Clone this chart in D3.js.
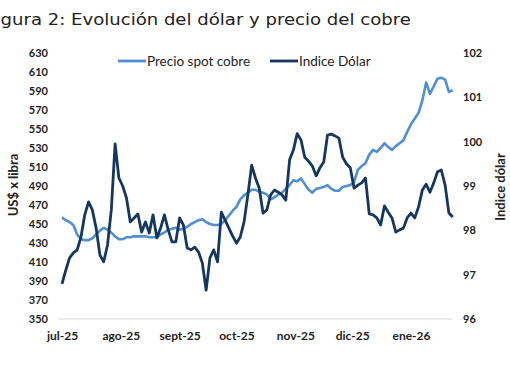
<!DOCTYPE html>
<html>
<head>
<meta charset="utf-8">
<script src="https://cdn.jsdelivr.net/npm/d3@7/dist/d3.min.js"></script>
<style>
  body { margin: 0; background: #fff; }
  svg { display: block; }
</style>
</head>
<body>
<svg id="chart" width="510" height="376"></svg>
<script>
// series sampled every 2 days from 1 Jul 2025
const startDate = '2025-07-01';
const endDate = '2026-01-23';
const stepDays = 2;

const monthTicks = ['2025-07-01', '2025-08-01', '2025-09-01', '2025-10-01', '2025-11-01', '2025-12-01', '2026-01-01'];
const monthLabels = ['jul-25', 'ago-25', 'sept-25', 'oct-25', 'nov-25', 'dic-25', 'ene-26'];
const leftTicks = [350, 370, 390, 410, 430, 450, 470, 490, 510, 530, 550, 570, 590, 610, 630];
const rightTicks = [96, 97, 98, 99, 100, 101, 102];

// Precio spot cobre (US$ x libra, cents)
const cobre = [
  457, 454, 452, 449, 439, 434, 433, 433, 435, 439,
  443, 446, 444, 441, 437, 434, 434, 436, 436, 437,
  437, 437, 437, 436, 436, 436, 439, 441, 444, 445,
  446, 444, 445, 447, 450, 452, 454, 455, 452, 450,
  449, 449, 450, 454, 459, 464, 468, 476, 480, 483,
  486, 486, 484, 483, 481, 476, 478, 481, 483, 487,
  491, 496, 495, 498, 492, 486, 483, 487, 488, 489,
  491, 487, 485, 485, 489, 490, 491, 494, 507, 511,
  514, 523, 528, 526, 530, 535, 531, 528, 532, 535,
  538, 547, 555, 561, 567, 580, 599, 587, 595, 603,
  604, 602, 589, 591
];

// Indice Dólar
const dolar = [
  96.79, 97.10, 97.38, 97.49, 97.56, 97.85, 98.35, 98.64, 98.46, 98.05,
  97.44, 97.29, 97.67, 98.46, 99.95, 99.18, 99.00, 98.73, 98.19, 98.28,
  98.37, 97.96, 98.19, 97.94, 98.35, 97.83, 98.05, 98.35, 98.01, 97.74,
  97.74, 98.28, 98.12, 97.60, 97.56, 97.62, 97.51, 97.26, 96.65, 97.38,
  97.56, 97.29, 98.41, 98.23, 98.05, 97.87, 97.71, 97.85, 98.19, 98.80,
  99.47, 99.18, 98.95, 98.39, 98.46, 98.80, 98.91, 98.86, 98.80, 98.68,
  99.59, 99.81, 100.18, 100.04, 99.65, 99.56, 99.45, 99.23, 99.41, 99.54,
  100.15, 100.17, 100.13, 100.08, 99.65, 99.50, 99.41, 98.95, 99.02, 99.07,
  99.18, 98.37, 98.35, 98.28, 98.12, 98.55, 98.41, 98.28, 97.96, 98.01,
  98.05, 98.28, 98.39, 98.28, 98.53, 98.91, 99.04, 98.86, 99.07, 99.32,
  99.36, 99.02, 98.39, 98.30
];

const colorCobre = '#4f8fd2';
const colorDolar = '#15375f';
const labelFont = 'Lato, "Open Sans", sans-serif';
const titleFont = '"DejaVu Sans", Verdana, sans-serif';

const svg = d3.select('#chart');
const parse = d3.utcParse('%Y-%m-%d');
const start = parse(startDate);

const x = d3.scaleUtc().domain([start, parse(endDate)]).range([62, 452.7]);
const yL = d3.scaleLinear().domain([350, 630]).range([319, 53]);
const yR = d3.scaleLinear().domain([96, 102]).range([319, 53]);

const dateAt = i => d3.utcDay.offset(start, i * stepDays);

// title, first letters clipped like the source
const probe = svg.append('text')
    .attr('font-family', titleFont)
    .attr('font-size', 16)
    .text('Fi');
const clipW = probe.node().getComputedTextLength();
probe.remove();
svg.append('text')
    .attr('transform', `scale(1.13,1) translate(${-clipW + 0.5},25)`)
    .attr('font-family', titleFont)
    .attr('font-size', 16)
    .attr('fill', '#222')
    .text('Figura 2: Evolución del dólar y precio del cobre');

// baseline
svg.append('line')
    .attr('x1', 58).attr('x2', 452)
    .attr('y1', 319).attr('y2', 319)
    .attr('stroke', '#d9d9d9').attr('stroke-width', 1);

const styleAxis = size => g => {
    g.select('.domain').remove();
    g.selectAll('.tick line').remove();
    g.selectAll('text')
        .attr('font-family', labelFont)
        .attr('font-weight', 'bold')
        .attr('font-size', size)
        .attr('fill', '#222');
};

svg.append('g')
    .attr('transform', 'translate(50,0)')
    .call(d3.axisLeft(yL).tickValues(leftTicks).tickSize(0).tickPadding(2))
    .call(styleAxis(11));

svg.append('g')
    .attr('transform', 'translate(460,0)')
    .call(d3.axisRight(yR).tickValues(rightTicks).tickFormat(d3.format('d')).tickSize(0).tickPadding(3))
    .call(styleAxis(11));

svg.append('g')
    .attr('transform', 'translate(0,326)')
    .call(d3.axisBottom(x)
        .tickValues(monthTicks.map(parse))
        .tickFormat((d, i) => monthLabels[i])
        .tickSize(0).tickPadding(5))
    .call(styleAxis(12));

// axis titles
svg.append('text')
    .attr('transform', 'translate(18,185) rotate(-90)')
    .attr('text-anchor', 'middle')
    .attr('font-family', labelFont)
    .attr('font-weight', 'bold')
    .attr('font-size', 13)
    .attr('fill', '#222')
    .text('US$ x libra');

svg.append('text')
    .attr('transform', 'translate(505,187) rotate(-90)')
    .attr('text-anchor', 'middle')
    .attr('font-family', labelFont)
    .attr('font-weight', 'bold')
    .attr('font-size', 13)
    .attr('fill', '#222')
    .text('Indice dólar');

// lines
const lineL = d3.line().x((d, i) => x(dateAt(i))).y(d => yL(d));
const lineR = d3.line().x((d, i) => x(dateAt(i))).y(d => yR(d));

svg.append('path').datum(cobre)
    .attr('d', lineL)
    .attr('fill', 'none')
    .attr('stroke', colorCobre)
    .attr('stroke-width', 2.6)
    .attr('stroke-linejoin', 'round');

svg.append('path').datum(dolar)
    .attr('d', lineR)
    .attr('fill', 'none')
    .attr('stroke', colorDolar)
    .attr('stroke-width', 2.8)
    .attr('stroke-linejoin', 'round');

// legend
const legend = [
    { name: 'Precio spot cobre', color: colorCobre, x: 118 },
    { name: 'Indice Dólar', color: colorDolar, x: 270 }
];
const lg = svg.append('g').selectAll('g').data(legend).join('g')
    .attr('transform', d => `translate(${d.x},61)`);
lg.append('line')
    .attr('x1', 0).attr('x2', 28)
    .attr('stroke', d => d.color)
    .attr('stroke-width', 2.8);
lg.append('text')
    .attr('x', 29).attr('y', 4.5)
    .attr('font-family', labelFont)
    .attr('font-size', 13.5)
    .attr('fill', '#222')
    .text(d => d.name);
</script>
</body>
</html>
